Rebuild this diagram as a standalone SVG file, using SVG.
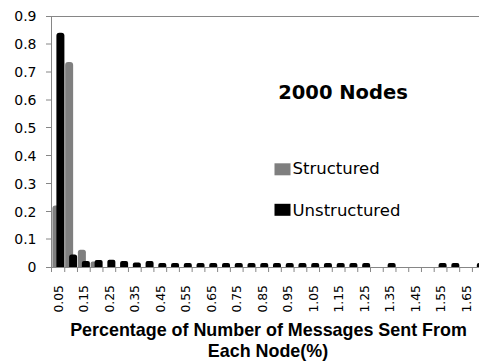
<svg xmlns="http://www.w3.org/2000/svg" xmlns:xlink="http://www.w3.org/1999/xlink" width="479" height="362" viewBox="0 0 479 362">
<style>
.ax{stroke:#868686;stroke-width:1;fill:none}
.g{fill:#7f7f7f}
.k{fill:#000}
.yl{font-family:"DejaVu Sans",sans-serif;font-size:14px;text-anchor:end;fill:#000}
.xl{font-family:"DejaVu Sans",sans-serif;font-size:12.4px;text-anchor:end;fill:#000}
.lg{font-family:"DejaVu Sans",sans-serif;font-size:16.5px;fill:#000}
.tt{font-family:"DejaVu Sans",sans-serif;font-size:19.5px;font-weight:bold;text-anchor:middle;fill:#000}
.at{font-family:"Liberation Sans",Arial,sans-serif;font-size:17.9px;font-weight:bold;text-anchor:middle;fill:#000}
</style>
<defs>
<path id="sb" d="M0 4V2Q0 0 2 0H6Q8 0 8 2V4Z"/>
</defs>
<rect width="479" height="362" fill="#fff"/>
<g id="axes">
<path class="ax" d="M52 16.5H479M51.5 16V267.5M52 267.5H479"/>
<path class="ax" d="M46 16.5h6M46 44h6M46 72h6M46 100h6M46 127.5h6M46 155.5h6M46 183.5h6M46 211.5h6M46 239h6M46 267.5h6"/>
<path class="ax" d="M51.5 267v5M64.74 267v5M77.48 267v5M90.22 267v5M102.96 267v5M115.7 267v5M128.44 267v5M141.18 267v5M153.92 267v5M166.66 267v5M179.4 267v5M192.14 267v5M204.88 267v5M217.62 267v5M230.36 267v5M243.1 267v5M255.84 267v5M268.58 267v5M281.32 267v5M294.06 267v5M306.8 267v5M319.54 267v5M332.28 267v5M345.02 267v5M357.76 267v5M370.5 267v5M383.24 267v5M395.98 267v5M408.72 267v5M421.46 267v5M434.2 267v5M446.94 267v5M459.68 267v5M472.42 267v5"/>
</g>
<g id="y-labels">
<text class="yl" x="36.5" y="21">0.9</text>
<text class="yl" x="36.5" y="49">0.8</text>
<text class="yl" x="36.5" y="77">0.7</text>
<text class="yl" x="36.5" y="105">0.6</text>
<text class="yl" x="36.5" y="132.5">0.5</text>
<text class="yl" x="36.5" y="160.5">0.4</text>
<text class="yl" x="36.5" y="188.5">0.3</text>
<text class="yl" x="36.5" y="216.5">0.2</text>
<text class="yl" x="36.5" y="244">0.1</text>
<text class="yl" x="36.5" y="272">0</text>
</g>
<g id="x-labels">
<text class="xl" transform="translate(62.87,285) rotate(-90)">0.05</text>
<text class="xl" transform="translate(88.35,285) rotate(-90)">0.15</text>
<text class="xl" transform="translate(113.83,285) rotate(-90)">0.25</text>
<text class="xl" transform="translate(139.31,285) rotate(-90)">0.35</text>
<text class="xl" transform="translate(164.79,285) rotate(-90)">0.45</text>
<text class="xl" transform="translate(190.27,285) rotate(-90)">0.55</text>
<text class="xl" transform="translate(215.75,285) rotate(-90)">0.65</text>
<text class="xl" transform="translate(241.23,285) rotate(-90)">0.75</text>
<text class="xl" transform="translate(266.71,285) rotate(-90)">0.85</text>
<text class="xl" transform="translate(292.19,285) rotate(-90)">0.95</text>
<text class="xl" transform="translate(317.67,285) rotate(-90)">1.05</text>
<text class="xl" transform="translate(343.15,285) rotate(-90)">1.15</text>
<text class="xl" transform="translate(368.63,285) rotate(-90)">1.25</text>
<text class="xl" transform="translate(394.11,285) rotate(-90)">1.35</text>
<text class="xl" transform="translate(419.59,285) rotate(-90)">1.45</text>
<text class="xl" transform="translate(445.07,285) rotate(-90)">1.55</text>
<text class="xl" transform="translate(470.55,285) rotate(-90)">1.65</text>
</g>
<g id="structured-bars" class="g">
<path d="M52.4 267V208.6Q52.4 205.6 55.4 205.6H57.4Q60.4 205.6 60.4 208.6V267Z"/>
<path d="M65.14 267V65Q65.14 62 68.14 62H70.14Q73.14 62 73.14 65V267Z"/>
<path d="M77.88 267V252.2Q77.88 249.7 80.38 249.7H83.38Q85.88 249.7 85.88 252.2V267Z"/>
<path d="M90.62 267V263.4Q90.62 261.4 92.62 261.4H96.62Q98.62 261.4 98.62 263.4V267Z"/>
</g>
<g id="unstructured-bars" class="k">
<path d="M56.4 267V35.7Q56.4 32.7 59.4 32.7H61.4Q64.4 32.7 64.4 35.7V267Z"/>
<path d="M69.14 267V257Q69.14 254.5 71.64 254.5H74.64Q77.14 254.5 77.14 257V267Z"/>
<path d="M81.88 267V262.9Q81.88 260.9 83.88 260.9H87.88Q89.88 260.9 89.88 262.9V267Z"/>
<path d="M94.62 267V262Q94.62 260 96.62 260H100.62Q102.62 260 102.62 262V267Z"/>
<path d="M107.36 267V261.7Q107.36 259.7 109.36 259.7H113.36Q115.36 259.7 115.36 261.7V267Z"/>
<path d="M120.1 267V262.9Q120.1 260.9 122.1 260.9H126.1Q128.1 260.9 128.1 262.9V267Z"/>
<path d="M132.84 267V264.5Q132.84 262.5 134.84 262.5H138.84Q140.84 262.5 140.84 264.5V267Z"/>
<path d="M145.58 267V262.9Q145.58 260.9 147.58 260.9H151.58Q153.58 260.9 153.58 262.9V267Z"/>
<use xlink:href="#sb" x="158.32" y="263"/>
<use xlink:href="#sb" x="171.06" y="263"/>
<use xlink:href="#sb" x="183.8" y="263"/>
<use xlink:href="#sb" x="196.54" y="263"/>
<use xlink:href="#sb" x="209.28" y="263"/>
<use xlink:href="#sb" x="222.02" y="263"/>
<use xlink:href="#sb" x="234.76" y="263"/>
<use xlink:href="#sb" x="247.5" y="263"/>
<use xlink:href="#sb" x="260.24" y="263"/>
<use xlink:href="#sb" x="272.98" y="263"/>
<use xlink:href="#sb" x="285.72" y="263"/>
<use xlink:href="#sb" x="298.46" y="263"/>
<use xlink:href="#sb" x="311.2" y="263"/>
<use xlink:href="#sb" x="323.94" y="263"/>
<use xlink:href="#sb" x="336.68" y="263"/>
<use xlink:href="#sb" x="349.42" y="263"/>
<use xlink:href="#sb" x="362.16" y="263"/>
<use xlink:href="#sb" x="387.64" y="263"/>
<use xlink:href="#sb" x="438.6" y="263"/>
<use xlink:href="#sb" x="451.34" y="263"/>
<use xlink:href="#sb" x="476.82" y="263"/>
</g>
<g id="title">
<text class="tt" x="343" y="99">2000 Nodes</text>
</g>
<g id="legend">
<rect class="g" x="274.5" y="163.3" width="16" height="12"/>
<text class="lg" x="292.5" y="174.3">Structured</text>
<rect class="k" x="274.5" y="203.8" width="16" height="12"/>
<text class="lg" x="292.5" y="215.7">Unstructured</text>
</g>
<g id="axis-title">
<text class="at" x="268.5" y="335.5">Percentage of Number of Messages Sent From</text>
<text class="at" x="268" y="357.3">Each Node(%)</text>
</g>
</svg>
